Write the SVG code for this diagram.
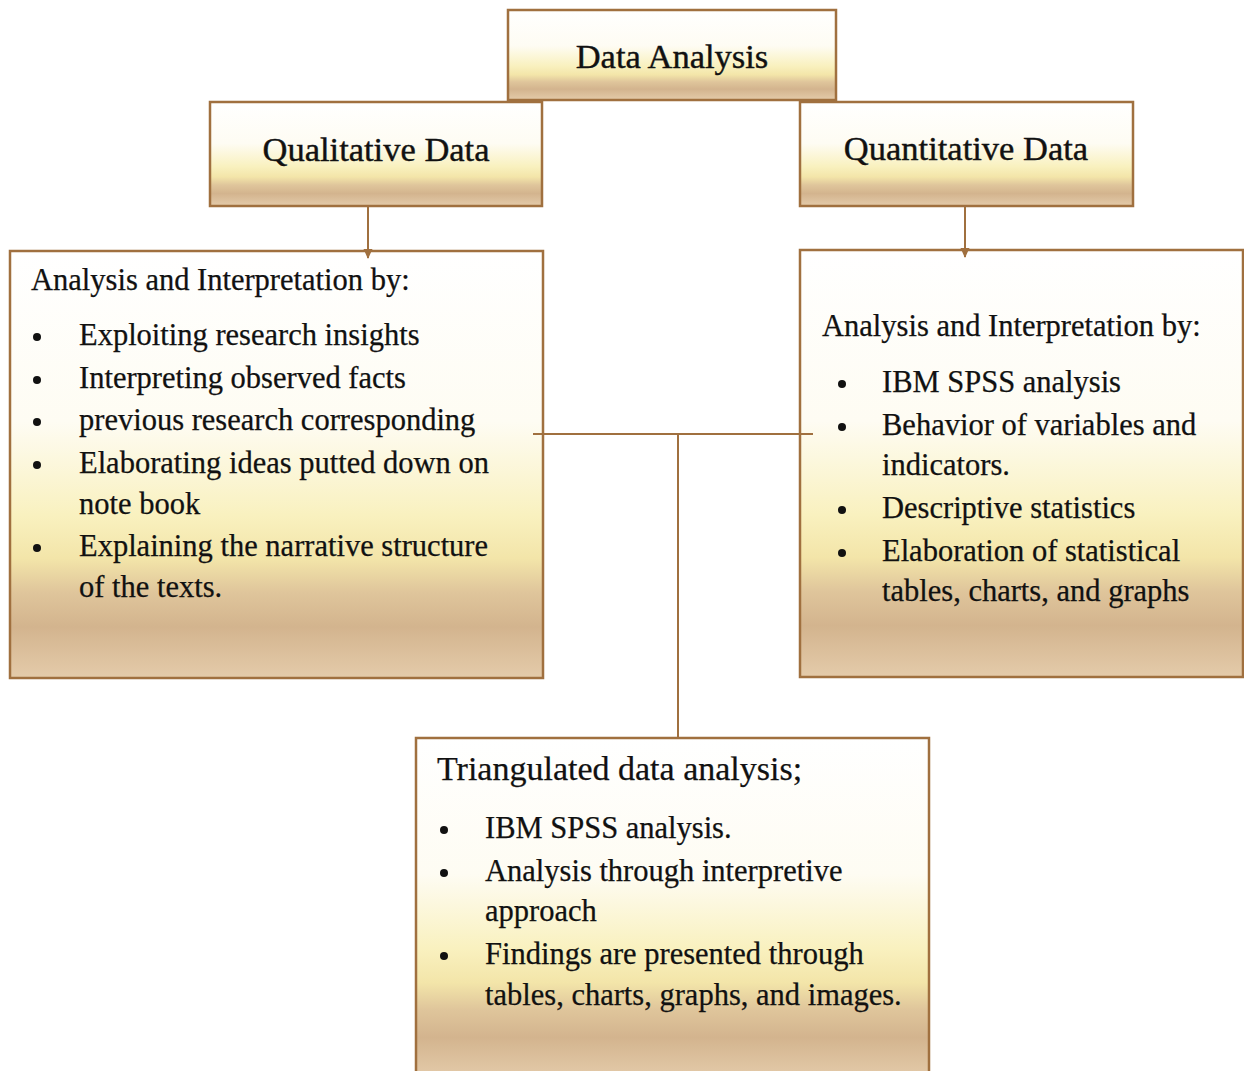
<svg xmlns="http://www.w3.org/2000/svg" width="1244" height="1071" viewBox="0 0 1244 1071">
<style>
.box{fill:url(#gold);stroke:#a0703f;stroke-width:2.5}
.h{font-family:"Liberation Serif","Times New Roman",serif;font-size:34.5px;fill:#111;text-anchor:middle;stroke:#111;stroke-width:0.4}
.t{font-family:"Liberation Serif","Times New Roman",serif;font-size:30.5px;fill:#111;stroke:#111;stroke-width:0.25}
.tt{font-family:"Liberation Serif","Times New Roman",serif;font-size:34px;fill:#111;stroke:#111;stroke-width:0.25}
.b{fill:#111}
.con{stroke:#a0703f;stroke-width:2;fill:none}
</style>
<defs>
<linearGradient id="gold" x1="0" y1="0" x2="0" y2="1">
<stop offset="0" stop-color="#ffffff"/>
<stop offset="0.4" stop-color="#fefcf3"/>
<stop offset="0.62" stop-color="#f9f1bf"/>
<stop offset="0.72" stop-color="#f3e5a9"/>
<stop offset="0.8" stop-color="#dfc59b"/>
<stop offset="0.88" stop-color="#d3b48e"/>
<stop offset="1" stop-color="#e4cbaa"/>
</linearGradient>
<marker id="arr" viewBox="0 0 10 10" refX="9" refY="5" markerWidth="10" markerHeight="10" orient="auto" markerUnits="userSpaceOnUse">
<path d="M0,0.5 L10,5 L0,9.5 Z" fill="#a0703f"/>
</marker>
</defs>
<g id="data-analysis">
<rect class="box" x="508" y="10" width="328" height="90"/>
<text class="h" x="672" y="68">Data Analysis</text>
</g>
<g id="qualitative">
<rect class="box" x="210" y="102" width="332" height="104"/>
<text class="h" x="376" y="161">Qualitative Data</text>
</g>
<g id="quantitative">
<rect class="box" x="800" y="102" width="333" height="104"/>
<text class="h" x="966" y="160">Quantitative Data</text>
</g>
<g id="qual-analysis">
<rect class="box" x="10" y="251" width="533" height="427"/>
<text class="t" x="31" y="290">Analysis and Interpretation by:</text>
<circle class="b" cx="37" cy="337" r="4"/>
<text class="t" x="79" y="345">Exploiting research insights</text>
<circle class="b" cx="37" cy="380" r="4"/>
<text class="t" x="79" y="388">Interpreting observed facts</text>
<circle class="b" cx="37" cy="422" r="4"/>
<text class="t" x="79" y="430">previous research corresponding</text>
<circle class="b" cx="37" cy="465" r="4"/>
<text class="t" x="79" y="473">Elaborating ideas putted down on</text>
<text class="t" x="79" y="514">note book</text>
<circle class="b" cx="37" cy="548" r="4"/>
<text class="t" x="79" y="556">Explaining the narrative structure</text>
<text class="t" x="79" y="597">of the texts.</text>
</g>
<g id="quant-analysis">
<rect class="box" x="800" y="250" width="443" height="427"/>
<text class="t" x="822" y="336">Analysis and Interpretation by:</text>
<circle class="b" cx="842" cy="384" r="4"/>
<text class="t" x="882" y="392">IBM SPSS analysis</text>
<circle class="b" cx="842" cy="427" r="4"/>
<text class="t" x="882" y="435">Behavior of variables and</text>
<text class="t" x="882" y="475">indicators.</text>
<circle class="b" cx="842" cy="510" r="4"/>
<text class="t" x="882" y="518">Descriptive statistics</text>
<circle class="b" cx="842" cy="553" r="4"/>
<text class="t" x="882" y="561">Elaboration of statistical</text>
<text class="t" x="882" y="601">tables, charts, and graphs</text>
</g>
<g id="triangulated">
<rect class="box" x="416" y="738" width="513" height="340"/>
<text class="tt" x="437" y="780">Triangulated data analysis;</text>
<circle class="b" cx="444" cy="830" r="4"/>
<text class="t" x="485" y="838">IBM SPSS analysis.</text>
<circle class="b" cx="444" cy="873" r="4"/>
<text class="t" x="485" y="881">Analysis through interpretive</text>
<text class="t" x="485" y="921">approach</text>
<circle class="b" cx="444" cy="956" r="4"/>
<text class="t" x="485" y="964">Findings are presented through</text>
<text class="t" x="485" y="1005">tables, charts, graphs, and images.</text>
</g>
<g id="connectors">
<line class="con" x1="368" y1="206" x2="368" y2="258" marker-end="url(#arr)"/>
<line class="con" x1="965" y1="206" x2="965" y2="257" marker-end="url(#arr)"/>
<line class="con" x1="533" y1="434" x2="813" y2="434"/>
<line class="con" x1="678" y1="434" x2="678" y2="738"/>
</g>
</svg>
